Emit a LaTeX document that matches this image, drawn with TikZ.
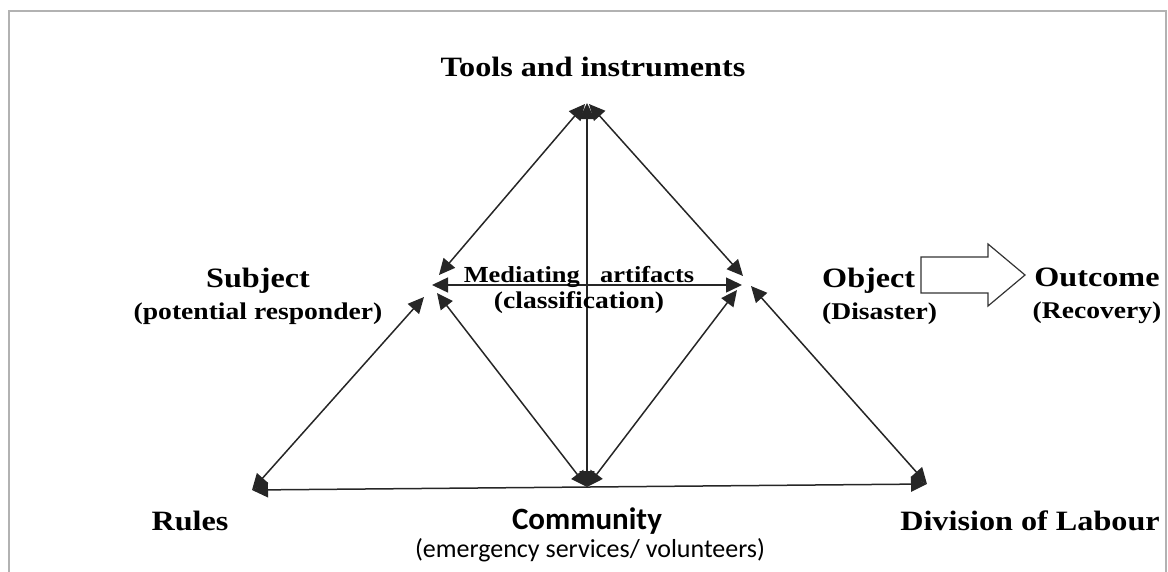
\documentclass[tikz,border=0pt]{standalone}
\usepackage{fontspec}
\setmainfont[FakeStretch=1.15]{Liberation Serif}
\newfontfamily\calib{Carlito}
\usetikzlibrary{arrows.meta,shapes.arrows}
\newcommand{\subl}{\fontsize{24}{28}\selectfont}
\begin{document}
\begin{tikzpicture}[x=1pt,y=-1pt,
  conn/.style={line width=1.5pt,draw=black!85,{Triangle[length=16pt,width=15pt]}-{Triangle[length=16pt,width=15pt]}},
  lbl/.style={font=\fontsize{28}{32}\selectfont\bfseries,inner sep=0pt,align=center},
  clbl/.style={font=\calib\fontsize{31}{34}\selectfont\bfseries,inner sep=0pt},
  slbl/.style={font=\calib\fontsize{26}{30}\selectfont,inner sep=0pt}]
\useasboundingbox (0,0) rectangle (1168,571);
\draw[gray!60,line width=2pt] (9,575) -- (9,11) -- (1166,11) -- (1166,575);
% vertices
\coordinate (T) at (587,103);
\coordinate (S) at (432,285);
\coordinate (O) at (742,285);
\coordinate (C) at (587,487);
\coordinate (R) at (252,490);
\coordinate (D) at (927,484);
\coordinate (Sa) at (424,297);
\coordinate (Oa) at (751,286);
\coordinate (Sb) at (437,293);
\coordinate (Ob) at (737,290);
\coordinate (Tl) at (585,104);
\coordinate (Tr) at (589,104);
\coordinate (Sc) at (439,275);
\coordinate (Oc) at (743,276);
% connectors
\draw[conn] (Tl) -- (Sc);
\draw[conn] (Tr) -- (Oc);
\draw[conn] (T) -- (C);
\draw[conn] (S) -- (O);
\draw[conn] (Sb) -- (C);
\draw[conn] (Ob) -- (C);
\draw[conn] (Sa) -- (R);
\draw[conn] (Oa) -- (D);
\draw[conn] (R) -- (D);
% labels
\node[lbl] (tools) at (593,67) {Tools and instruments};
\node[lbl] (subj) at (258,296) {Subject\\[0pt]{\subl(potential responder)}};
\node[lbl,font=\fontsize{23}{27}\selectfont\bfseries] (med) at (579,290) {Mediating\hspace{0.6em} artifacts\\[-1pt]{\subl(classification)}};
\node[lbl,align=left,anchor=west] (obj) at (822,296) {Object\\[0pt]{\subl(Disaster)}};
\node[lbl] (out) at (1097,296) {Outcome\\[0pt]{\subl(Recovery)}};
\node[lbl] (rules) at (190,521) {Rules};
\node[lbl] (div) at (1030,521) {Division of Labour};
\node[clbl] (comm) at (587,521) {Community};
\node[slbl] (commsub) at (590,550) {(emergency services/ volunteers)};
% outcome arrow
\draw[line width=1.2pt,black!80] (921,257) -- (988,257) -- (988,244) -- (1025,275) -- (988,306) -- (988,293) -- (921,293) -- cycle;
\end{tikzpicture}
\end{document}
